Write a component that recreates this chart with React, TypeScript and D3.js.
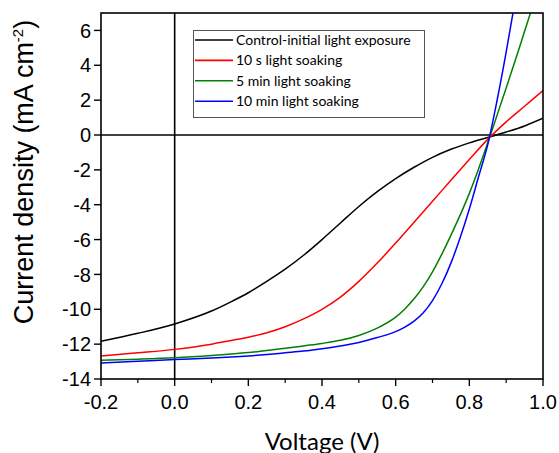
import * as d3 from 'd3';

// voltage grids (V)
const voltsA = [-0.2, -0.1, 0, 0.1, 0.15, 0.2, 0.25, 0.3, 0.35, 0.4, 0.45, 0.5, 0.55, 0.6, 0.65, 0.7, 0.75, 0.8, 0.85, 0.9, 0.95, 1.0];
const voltsB = [-0.2, -0.1, 0, 0.1, 0.2, 0.25, 0.3, 0.35, 0.4, 0.45, 0.5, 0.55, 0.6, 0.625, 0.65, 0.675, 0.7, 0.725, 0.75, 0.775, 0.8, 0.825, 0.85, 0.875, 0.9, 0.925, 0.95, 0.975, 1.0];

// current density (mA cm-2)
const controlJ = [-11.84, -11.38, -10.84, -10.1, -9.6, -9.05, -8.4, -7.7, -6.9, -6.0, -5.05, -4.1, -3.25, -2.5, -1.85, -1.28, -0.82, -0.45, -0.14, 0.17, 0.52, 0.96];
const soak10sJ = [-12.68, -12.5, -12.3, -12.0, -11.8, -11.6, -11.35, -11.0, -10.55, -10.0, -9.3, -8.4, -7.35, -6.2, -5.0, -3.8, -2.6, -1.4, -0.25, 0.75, 1.65, 2.55];
const soak5mJ = [-12.92, -12.86, -12.78, -12.65, -12.48, -12.36, -12.24, -12.1, -11.96, -11.78, -11.5, -11.08, -10.45, -9.98, -9.4, -8.7, -7.85, -6.85, -5.75, -4.6, -3.35, -1.95, -0.45, 1.12, 2.7, 4.3, 5.95, 7.6, 9.2];
const soak10mJ = [-13.08, -12.98, -12.88, -12.8, -12.68, -12.6, -12.5, -12.4, -12.26, -12.1, -11.9, -11.62, -11.28, -11.02, -10.68, -10.2, -9.5, -8.55, -7.35, -5.9, -4.25, -2.4, -0.55, 1.95, 4.75, 7.8];

const seriesLabels = ['Control-initial light exposure', '10 s light soaking', '5 min light soaking', '10 min light soaking'];
const seriesColors = ['#000000', '#ff0000', '#008000', '#0000ff'];

const xTicks = [-0.2, 0, 0.2, 0.4, 0.6, 0.8, 1.0];
const xMinorTicks = [-0.1, 0.1, 0.3, 0.5, 0.7, 0.9];
const yTicks = [-14, -12, -10, -8, -6, -4, -2, 0, 2, 4, 6];

const W = 559, H = 453;
const margin = { top: 13, right: 16, bottom: 74, left: 101 };

export default function App() {
  const x = d3.scaleLinear().domain([-0.2, 1.0]).range([margin.left, W - margin.right]);
  const y = d3.scaleLinear().domain([-14, 7]).range([H - margin.bottom, margin.top]);

  const series = [
    { v: voltsA, j: controlJ },
    { v: voltsA, j: soak10sJ },
    { v: voltsB, j: soak5mJ },
    { v: voltsB, j: soak10mJ },
  ];

  const line = d3.line<[number, number]>()
    .x(d => x(d[0]))
    .y(d => y(d[1]))
    .curve(d3.curveMonotoneX);

  const fmt = (d: number) => d.toFixed(1);
  const x0 = x.range()[0], x1 = x.range()[1];
  const y0 = y.range()[0], y1 = y.range()[1];
  const tickFont = "'Liberation Sans', Arial, sans-serif";
  const calFont = "Lato, 'Open Sans', sans-serif";

  return (
    <div style={{ position: 'absolute', left: 0, top: 0 }}>
      <svg width={W} height={H} style={{ display: 'block', background: '#fff' }}>
        <defs>
          <clipPath id="plot-clip">
            <rect x={x0} y={y1} width={x1 - x0} height={y0 - y1} />
          </clipPath>
        </defs>

        {/* zero lines */}
        <line x1={x(0)} x2={x(0)} y1={y1} y2={y0} stroke="#000" strokeWidth={1.6} />
        <line x1={x0} x2={x1} y1={y(0)} y2={y(0)} stroke="#000" strokeWidth={1.6} />

        {/* curves */}
        <g clipPath="url(#plot-clip)">
          {series.map((s, i) => (
            <path key={i}
              d={line(s.j.map((jv, k) => [s.v[k], jv] as [number, number])) || ''}
              fill="none" stroke={seriesColors[i]} strokeWidth={1.5} />
          ))}
        </g>

        {/* frame */}
        <rect x={x0} y={y1} width={x1 - x0} height={y0 - y1} fill="none" stroke="#000" strokeWidth={1.6} />

        {/* x ticks */}
        {xTicks.map(t => (
          <g key={'x' + t}>
            <line x1={x(t)} x2={x(t)} y1={y0} y2={y0 + 7} stroke="#000" strokeWidth={1.4} />
            <text x={x(t)} y={y0 + 30} textAnchor="middle" fontFamily={tickFont} fontSize={20} fill="#000">{fmt(t)}</text>
          </g>
        ))}
        {xMinorTicks.map(t => (
          <line key={'xm' + t} x1={x(t)} x2={x(t)} y1={y0} y2={y0 + 4} stroke="#000" strokeWidth={1.2} />
        ))}

        {/* y ticks */}
        {yTicks.map(t => (
          <g key={'y' + t}>
            <line x1={x0 - 7} x2={x0} y1={y(t)} y2={y(t)} stroke="#000" strokeWidth={1.4} />
            <text x={x0 - 10} y={y(t)} dy="0.36em" textAnchor="end" fontFamily={tickFont} fontSize={20} fill="#000">{String(t)}</text>
          </g>
        ))}

        {/* axis titles */}
        <text x={(x0 + x1) / 2} y={450} textAnchor="middle" fontFamily={calFont} fontSize={24} fill="#000">Voltage (V)</text>
        <text transform="translate(33,172) rotate(-90)" textAnchor="middle" fontFamily={tickFont} fontSize={27} fill="#000">
          Current density (mA cm<tspan dy={-10} fontSize={15}>-2</tspan><tspan dy={10}>)</tspan>
        </text>

        {/* legend */}
        <g>
          <rect x={193.5} y={30.5} width={231} height={87} fill="#fff" stroke="#555" strokeWidth={1} />
          {seriesLabels.map((label, i) => {
            const ly = 40 + i * 20.4;
            return (
              <g key={label}>
                <line x1={195} x2={233} y1={ly} y2={ly} stroke={seriesColors[i]} strokeWidth={1.6} />
                <text x={236} y={ly + 5} fontFamily={calFont} fontSize={14} fill="#000">{label}</text>
              </g>
            );
          })}
        </g>
      </svg>
    </div>
  );
}
